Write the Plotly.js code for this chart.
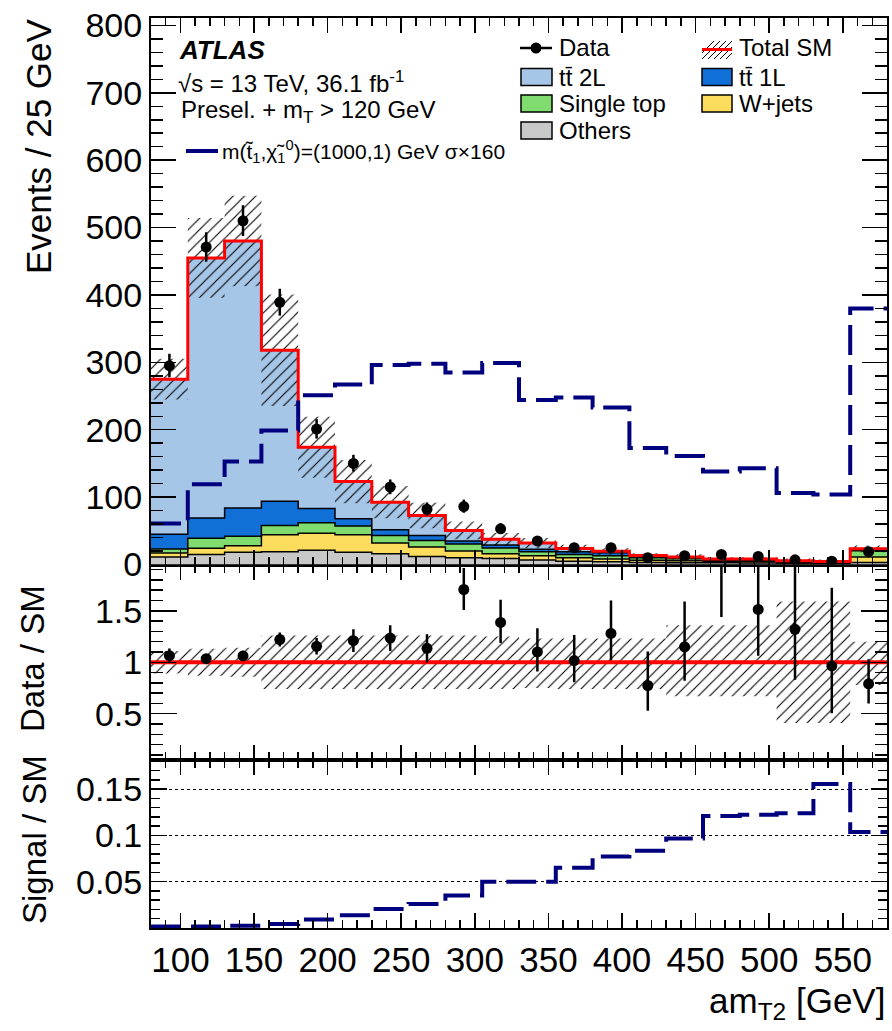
<!DOCTYPE html>
<html><head><meta charset="utf-8">
<script src="https://cdn.plot.ly/plotly-3.0.1.min.js"></script>
<style>html,body{margin:0;padding:0;background:#fff;}#chart{width:892px;height:1031px;}</style>
</head><body><div id="chart"></div>
<script>
// ---------------- data ----------------
const binEdges = [80,105,130,155,180,205,230,255,280,305,330,355,380,405,430,455,480,505,530,555,580];
const others    = [11,15,18,19,21,18,16,12,10,9,6.5,5,4,3,2.5,2.5,2.3,1.8,1.5,3];
const wjets     = [6,9,10,25,25.5,26,16,14,10,7,6.5,5,4,3.4,2.9,2.4,2.2,1.5,1.3,8];
const singleTop = [6,15,14,14,15.5,13,11,9.6,10.5,8.5,6,5,5,3.6,3,1.5,1.5,1,0.7,9.5];
const ttbar1L   = [22,30,42,36,21,11,8.5,7.4,4.2,4.5,3.5,4,4.3,2.4,2,1,1.2,0.7,0.5,1];
const ttbar2L   = [230,386,396,224,91,55,41,29.8,15.8,8.5,9.5,4.8,2.2,1.1,0.8,0.6,0.8,0.6,0.6,2];
const smRelUp   = [0.11,0.13,0.14,0.26,0.26,0.26,0.26,0.26,0.26,0.25,0.23,0.23,0.23,0.23,0.36,0.36,0.36,0.59,0.59,0.20];
const smRelDown = [0.11,0.13,0.14,0.26,0.26,0.26,0.26,0.26,0.26,0.26,0.25,0.26,0.26,0.26,0.33,0.33,0.33,0.59,0.59,0.22];
const dataCounts   = [295,471,510,389,201,150,115,82,86,53,35,25,25,10,13,15,12,7,5,19];
const dataErrUp    = [17.7,22.2,23.1,20.2,14.7,12.8,11.2,10.1,10.3,8.3,6.9,6.0,6.0,4.3,4.7,4.9,4.6,3.8,3.4,5.4];
const dataErrDown  = [17.2,21.7,22.6,19.7,14.2,12.2,10.7,9.1,9.3,7.3,5.9,5.0,5.0,3.1,3.6,3.8,3.5,2.6,2.2,4.3];
const signalX160   = [61,119,153,199,251,267,296,298,285,299,244,248,233,173,161,138,143,106,104,380];
const dataOverSM   = [1.064,1.035,1.061,1.22,1.155,1.21,1.235,1.135,1.707,1.387,1.10,1.016,1.28,0.774,1.15,2.10,1.513,1.32,0.964,0.79];
const ratioErrUp   = [0.07,0.045,0.05,0.068,0.08,0.11,0.125,0.137,0.21,0.22,0.23,0.25,0.32,0.33,0.44,0.80,0.55,0.65,0.76,0.24];
const ratioErrDown = [0.07,0.045,0.05,0.068,0.08,0.11,0.125,0.137,0.20,0.20,0.19,0.21,0.26,0.245,0.33,0.66,0.45,0.49,0.46,0.19];
const signalOverSM = [0.0017,0.0017,0.0025,0.0043,0.0093,0.0137,0.0205,0.026,0.0352,0.05,0.0499,0.0651,0.0773,0.0835,0.0968,0.121,0.1223,0.124,0.1555,0.1037];
const xTickVals = [100,150,200,250,300,350,400,450,500,550];

// ---------------- helpers ----------------
const FONT = 'Liberation Sans, Arial, Helvetica, sans-serif';
const W = 892, H = 1031, ML = 151, MR = 5, MT = 18, MB = 103;
const PW = W - ML - MR, PH = H - MT - MB;
const px = x => (x - ML) / PW;
const py = y => (H - MB - y) / PH;
const nb = dataCounts.length;
const centers = binEdges.slice(0, nb).map((e, i) => (e + binEdges[i + 1]) / 2);
const step = v => v.concat([v[v.length - 1]]);
function cumulate(list) {
  const out = []; let acc = new Array(nb).fill(0);
  list.forEach(a => { acc = acc.map((v, i) => v + a[i]); out.push(acc.slice()); });
  return out;
}
const comps = [others, wjets, singleTop, ttbar1L, ttbar2L];
const compColors = ['#c8c8c8', '#fcdc5c', '#80dc6e', '#1170d8', '#a6c6e8'];
const cums = cumulate(comps);
const totalSM = cums[cums.length - 1];

function bandPoly(lo, hi) {
  const x = [], y = [];
  for (let i = 0; i < nb; i++) { x.push(binEdges[i], binEdges[i + 1]); y.push(hi[i], hi[i]); }
  for (let i = nb - 1; i >= 0; i--) { x.push(binEdges[i + 1], binEdges[i]); y.push(lo[i], lo[i]); }
  x.push(x[0]); y.push(y[0]);
  return {x, y};
}
const hatch = {shape: '/', fgcolor: 'black', bgcolor: 'rgba(0,0,0,0)', size: 8, solidity: 0.14};
const NAVY = '#00007f';

const traces = [];
// stacked backgrounds (main panel: x3 / y)
cums.forEach((c, k) => {
  traces.push({type: 'scatter', mode: 'lines', x: binEdges, y: step(c), xaxis: 'x3', yaxis: 'y',
    line: {shape: 'hv', color: 'black', width: 1.5}, fill: k === 0 ? 'tozeroy' : 'tonexty',
    fillcolor: compColors[k], hoverinfo: 'skip', showlegend: false});
});
// uncertainty band main
const bm = bandPoly(totalSM.map((t, i) => t * (1 - smRelDown[i])), totalSM.map((t, i) => t * (1 + smRelUp[i])));
traces.push({type: 'scatter', mode: 'lines', x: bm.x, y: bm.y, xaxis: 'x3', yaxis: 'y', fill: 'toself',
  fillcolor: 'rgba(0,0,0,0)', fillpattern: hatch, line: {width: 0}, showlegend: false});
// total SM
traces.push({type: 'scatter', mode: 'lines', x: binEdges, y: step(totalSM), xaxis: 'x3', yaxis: 'y',
  line: {shape: 'hv', color: '#ff0000', width: 3}, showlegend: false});
// signal
traces.push({type: 'scatter', mode: 'lines', x: binEdges, y: step(signalX160), xaxis: 'x3', yaxis: 'y',
  line: {shape: 'hv', color: NAVY, width: 4, dash: '30px,10px'}, showlegend: false});
// data
traces.push({type: 'scatter', mode: 'markers', x: centers, y: dataCounts, xaxis: 'x3', yaxis: 'y',
  marker: {color: 'black', size: 11},
  error_y: {type: 'data', symmetric: false, array: dataErrUp, arrayminus: dataErrDown, color: 'black', thickness: 2.5, width: 0},
  showlegend: false});

// ratio panel (x2 / y2)
const br = bandPoly(smRelDown.map(r => 1 - r), smRelUp.map(r => 1 + r));
traces.push({type: 'scatter', mode: 'lines', x: br.x, y: br.y, xaxis: 'x2', yaxis: 'y2', fill: 'toself',
  fillcolor: 'rgba(0,0,0,0)', fillpattern: hatch, line: {width: 0}, showlegend: false});
traces.push({type: 'scatter', mode: 'lines', x: [binEdges[0], binEdges[nb]], y: [1, 1], xaxis: 'x2', yaxis: 'y2',
  line: {color: '#ff0000', width: 4}, showlegend: false});
traces.push({type: 'scatter', mode: 'markers', x: centers, y: dataOverSM, xaxis: 'x2', yaxis: 'y2',
  marker: {color: 'black', size: 11},
  error_y: {type: 'data', symmetric: false, array: ratioErrUp, arrayminus: ratioErrDown, color: 'black', thickness: 2.5, width: 0},
  showlegend: false});

// signal / SM panel (x / y3)
traces.push({type: 'scatter', mode: 'lines', x: binEdges, y: step(signalOverSM), xaxis: 'x', yaxis: 'y3',
  line: {shape: 'hv', color: NAVY, width: 4, dash: '30px,10px'}, showlegend: false});

// ---------------- axes ----------------
function xAx(extra) {
  return Object.assign({range: [binEdges[0], binEdges[nb]], tickmode: 'array', tickvals: xTickVals,
    showline: true, linecolor: 'black', linewidth: 2, mirror: 'ticks', ticks: 'inside', ticklen: 15, tickwidth: 1.5,
    tickcolor: 'black', minor: {ticks: 'inside', ticklen: 8, tickwidth: 1.5, tickcolor: 'black', tickmode: 'linear', tick0: 0, dtick: 10},
    showgrid: false, zeroline: false, fixedrange: true,
    tickfont: {family: FONT, size: 35, color: 'black'}}, extra);
}
function yAx(extra) {
  return Object.assign({showline: true, linecolor: 'black', linewidth: 2, mirror: 'ticks', ticks: 'inside',
    tickwidth: 1.5, tickcolor: 'black', showgrid: false, zeroline: false, fixedrange: true,
    tickfont: {family: FONT, size: 34, color: 'black'}}, extra);
}
const dMain = py(564.5), dSig = py(760);

const layout = {
  width: W, height: H, margin: {l: ML, r: MR, t: MT, b: MB, pad: 0},
  paper_bgcolor: 'white', plot_bgcolor: 'white', showlegend: false,
  font: {family: FONT, color: 'black'},
  xaxis: xAx({anchor: 'y3', ticklabelstandoff: 0}),
  xaxis2: xAx({anchor: 'y2', matches: 'x', showticklabels: false}),
  xaxis3: xAx({anchor: 'y', matches: 'x', showticklabels: false}),
  yaxis: yAx({domain: [dMain, 1], range: [0, 811], tickmode: 'linear', tick0: 0, dtick: 100, ticklen: 25,
    minor: {ticks: 'inside', ticklen: 12, tickwidth: 1.5, tickcolor: 'black', dtick: 20}}),
  yaxis2: yAx({domain: [dSig, dMain], range: [0.05, 1.95], tickmode: 'linear', tick0: 0, dtick: 0.5, ticklen: 26,
    minor: {ticks: 'inside', ticklen: 12, tickwidth: 1.5, tickcolor: 'black', dtick: 0.1}}),
  yaxis3: yAx({domain: [0, dSig], range: [0, 0.1815], tickmode: 'array', tickvals: [0.05, 0.1, 0.15], ticklen: 16,
    showgrid: true, gridcolor: 'black', griddash: 'dot', gridwidth: 1,
    minor: {ticks: 'inside', ticklen: 9, tickwidth: 1.5, tickcolor: 'black', tickmode: 'linear', tick0: 0, dtick: 0.01, showgrid: false}}),
  annotations: [], shapes: []
};

function txt(text, x, y, size, opts) {
  layout.annotations.push(Object.assign({text: text, xref: 'paper', yref: 'paper', x: px(x), y: py(y),
    xanchor: 'left', yanchor: 'middle', showarrow: false, font: {family: FONT, size: size, color: 'black'}}, opts || {}));
}
function rect(x0, y0, x1, y1, fill) {
  layout.shapes.push({type: 'rect', xref: 'paper', yref: 'paper', x0: px(x0), x1: px(x1), y0: py(y0), y1: py(y1),
    fillcolor: fill, line: {color: 'black', width: 1.5}});
}
function seg(x0, y0, x1, y1, color, width, dash) {
  layout.shapes.push({type: 'line', xref: 'paper', yref: 'paper', x0: px(x0), x1: px(x1), y0: py(y0), y1: py(y1),
    line: {color: color, width: width, dash: dash || 'solid'}});
}

// ATLAS labels
txt('<b><i>ATLAS</i></b>', 177, 50, 26);
txt('\u221As = 13 TeV, 36.1 fb<sup>-1</sup>', 176, 82, 24);
txt('Presel. + m<sub>T</sub> > 120 GeV', 179, 112, 24);
seg(186, 151, 218, 151, NAVY, 4);
txt('m(t\u0303<sub>1</sub>,\u03C7\u0303<sub>1</sub><sup>0</sup>)=(1000,1) GeV \u03C3\u00D7160', 220, 151, 21);

// legend column 1
seg(520, 48, 552, 48, 'black', 2.5);
layout.shapes.push({type: 'circle', xref: 'paper', yref: 'paper', x0: px(530.5), x1: px(541.5), y0: py(42.5), y1: py(53.5),
  fillcolor: 'black', line: {color: 'black', width: 0}});
txt('Data', 557, 47, 24);
rect(521, 68.5, 552, 85.5, compColors[4]); txt('tt\u0304 2L', 557, 77, 24);
rect(521, 95, 552, 112, compColors[2]); txt('Single top', 557, 103.5, 24);
rect(521, 122, 552, 139, compColors[0]); txt('Others', 557, 130.5, 24);
// legend column 2
const hb = [[702, 53, 714, 41], [702, 59, 720, 41], [708, 59, 726, 41], [714, 59, 732, 41], [720, 59, 732, 47], [726, 59, 732, 53]];
hb.forEach(s => seg(s[0], s[1], s[2], s[3], 'black', 1));
seg(702, 49.5, 732, 49.5, '#ff0000', 3);
txt('Total SM', 737, 47, 24);
rect(702, 68.5, 732, 85.5, compColors[3]); txt('tt\u0304 1L', 737, 77, 24);
rect(702, 95, 732, 112, compColors[1]); txt('W+jets', 737, 103.5, 24);

// axis titles
txt('Events / 25 GeV', 38, 16, 35, {textangle: -90, xanchor: 'center', yanchor: 'top'});
txt('Data / SM', 32, 659, 33, {textangle: -90, xanchor: 'center', yanchor: 'middle'});
txt('Signal / SM', 34, 839, 33, {textangle: -90, xanchor: 'center', yanchor: 'middle'});
txt('am<sub>T2</sub> [GeV]', 887, 1003, 35, {xanchor: 'right', yanchor: 'middle'});

Plotly.newPlot('chart', traces, layout, {staticPlot: true, displayModeBar: false});
</script>
</body></html>
